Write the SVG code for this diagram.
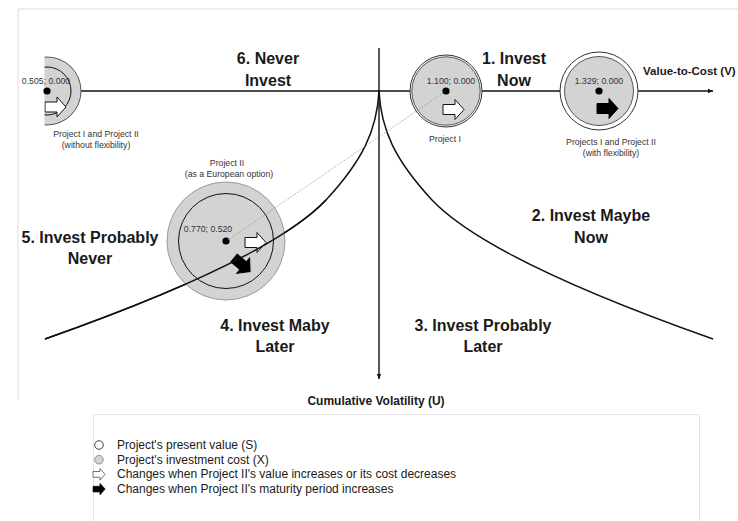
<svg xmlns="http://www.w3.org/2000/svg" width="738" height="521" viewBox="0 0 738 521">
  <style>
    .big { font-family: "Liberation Sans", Arial, sans-serif; font-weight: bold; font-size: 16px; fill: #1a1a1a; text-anchor: middle; }
    .axis-label { font-family: "Liberation Sans", Arial, sans-serif; font-weight: bold; font-size: 11.5px; fill: #1a1a1a; }
    .small { font-family: "Liberation Sans", Arial, sans-serif; font-size: 8.7px; fill: #333; text-anchor: middle; }
    .legend { font-family: "Liberation Sans", Arial, sans-serif; font-size: 12px; fill: #1a1a1a; }
    .axis { stroke: #111; stroke-width: 1.4; fill: none; }
    .curve { stroke: #111; stroke-width: 1.5; fill: none; }
    .cost { fill: #d3d3d3; stroke: #555; stroke-width: 1; }
    .value { fill: #fff; stroke: #333; stroke-width: 1; }
    .ring { fill: none; stroke: #111; stroke-width: 1; }
    .dot { fill: #000; }
    .warrow { fill: #fff; stroke: #111; stroke-width: 1; }
    .barrow { fill: #000; stroke: #000; stroke-width: 1; }
    .frame { stroke: #dcdcdc; stroke-width: 1; fill: none; }
  </style>
  <defs>
    <!-- block arrow, tail at origin, pointing along +x -->
    <path id="blk" d="M0,-5 H12 V-10 L21,0 L12,10 V5 H0 Z"/>
    <marker id="head" markerWidth="6" markerHeight="6" refX="5" refY="3" orient="auto" markerUnits="userSpaceOnUse">
      <path d="M0,0.8 L5,3 L0,5.2 Z" fill="#111"/>
    </marker>
    <clipPath id="leftEdge">
      <rect x="44.5" y="0" width="200" height="200"/>
    </clipPath>
  </defs>

  <!-- page frame -->
  <path class="frame" d="M18,400 V9 H738"/>

  <!-- connectors: axes, boundary curves and the move from Project I to Project II -->
  <g id="connectors">
    <line class="axis" x1="46" y1="91" x2="713" y2="91" marker-end="url(#head)"/>
    <line class="axis" x1="379" y1="48" x2="379" y2="379" marker-end="url(#head)"/>
    <path class="curve" d="M379,91 C381,130 395,160 432,200 C470,240 560,285 713,339"/>
    <path class="curve" d="M379,91 C377,130 363,160 326,200 C288,240 198,285 45,339"/>
  </g>

  <!-- zone labels -->
  <g id="zone1"><text class="big" x="514" y="64">1. Invest</text><text class="big" x="514" y="86">Now</text></g>
  <g id="zone2"><text class="big" x="591" y="221">2. Invest Maybe</text><text class="big" x="591" y="243">Now</text></g>
  <g id="zone3"><text class="big" x="483" y="331">3. Invest Probably</text><text class="big" x="483" y="352">Later</text></g>
  <g id="zone4"><text class="big" x="275" y="331">4. Invest Maby</text><text class="big" x="275" y="352">Later</text></g>
  <g id="zone5"><text class="big" x="90" y="243">5. Invest Probably</text><text class="big" x="90" y="264">Never</text></g>
  <g id="zone6"><text class="big" x="268" y="64">6. Never</text><text class="big" x="268" y="86">Invest</text></g>

  <text class="axis-label" x="643" y="75">Value-to-Cost (V)</text>
  <text class="axis-label" x="376" y="405" style="text-anchor:middle;font-size:12px">Cumulative Volatility (U)</text>

  <!-- Project I and Project II without flexibility -->
  <g id="noFlex">
    <g clip-path="url(#leftEdge)">
      <circle class="cost" cx="47" cy="91" r="34"/>
      <circle class="ring" cx="47" cy="91" r="24"/>
      <use href="#blk" class="warrow" transform="translate(45,107)"/>
    </g>
    <circle class="dot" cx="47" cy="91" r="3.6"/>
    <text class="small" x="46" y="84">0.505; 0.000</text>
    <text class="small" x="96" y="137">Project I and Project II</text>
    <text class="small" x="96" y="148">(without flexibility)</text>
  </g>

  <!-- Project I -->
  <g id="projectI">
    <circle class="value" cx="446" cy="91" r="36"/>
    <circle class="cost" cx="446" cy="91" r="34.2"/>
    <use href="#blk" class="warrow" transform="translate(443,109.5)"/>
    <circle class="dot" cx="446" cy="91" r="3.6"/>
    <text class="small" x="451" y="84">1.100; 0.000</text>
    <text class="small" x="445" y="142">Project I</text>
  </g>

  <!-- Projects I and II with flexibility -->
  <g id="withFlex">
    <circle class="value" cx="599" cy="91" r="39"/>
    <circle class="cost" cx="599" cy="91" r="34.5"/>
    <use href="#blk" class="barrow" transform="translate(597,108.5)"/>
    <circle class="dot" cx="599" cy="91" r="3.6"/>
    <text class="small" x="599" y="84">1.329; 0.000</text>
    <text class="small" x="611" y="145">Projects I and Project II</text>
    <text class="small" x="611" y="156">(with flexibility)</text>
  </g>

  <!-- Project II as a European option -->
  <g id="projectII">
    <circle class="cost" cx="226" cy="241" r="59" style="stroke:#999"/>
    <circle class="ring" cx="226" cy="241" r="47.5"/>
    <use href="#blk" class="warrow" transform="translate(245,242.5)"/>
    <use href="#blk" class="barrow" transform="translate(234,258) rotate(40)"/>
    <circle class="dot" cx="226" cy="241" r="3.6"/>
    <text class="small" x="208" y="231.5">0.770; 0.520</text>
    <text class="small" x="227" y="166">Project II</text>
    <text class="small" x="229" y="177">(as a European option)</text>
  </g>

  <!-- redraw the boundary over Project II and the dotted move -->
  <g id="overlay">
    <path class="curve" d="M326,200 C288,240 198,285 45,339"/>
    <line x1="228" y1="240" x2="446" y2="91" stroke="#888" stroke-width="0.8" stroke-dasharray="1.2,1.5"/>
  </g>

  <!-- legend -->
  <g id="legend">
    <path d="M93.5,525 V414.5 H699.5 V525" fill="none" stroke="#e3e3e3" stroke-width="1"/>
    <circle cx="99" cy="445" r="4.3" fill="#fff" stroke="#333" stroke-width="0.9"/>
    <text class="legend" x="117" y="449">Project's present value (S)</text>
    <circle cx="99" cy="459.7" r="4.3" fill="#d3d3d3" stroke="#888" stroke-width="0.9"/>
    <text class="legend" x="117" y="463.7">Project's investment cost (X)</text>
    <use href="#blk" class="warrow" transform="translate(93,474.4) scale(0.58)"/>
    <text class="legend" x="117" y="478.4">Changes when Project II's value increases or its cost decreases</text>
    <use href="#blk" class="barrow" transform="translate(93,489.1) scale(0.58)"/>
    <text class="legend" x="117" y="493.1">Changes when Project II's maturity period increases</text>
  </g>
</svg>
